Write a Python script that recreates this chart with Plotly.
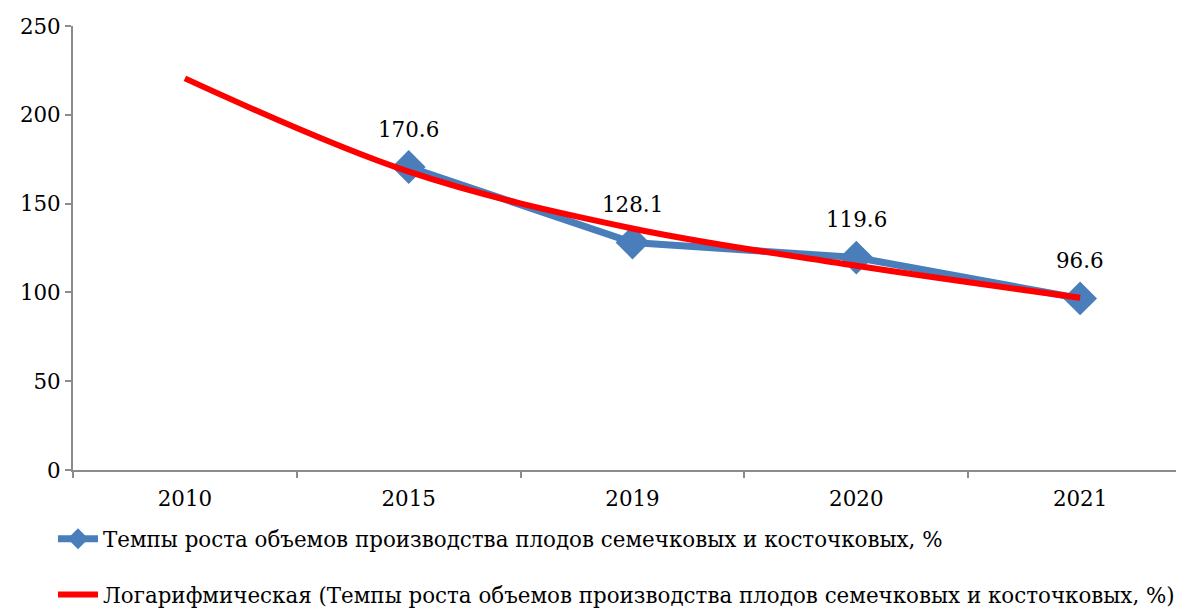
import plotly.graph_objects as go

categories = ["2010", "2015", "2019", "2020", "2021"]
growth_values = [None, 170.6, 128.1, 119.6, 96.6]
growth_labels = ["", "170.6", "128.1", "119.6", "96.6"]
trend_values = [220.5, 168.0, 136.0, 115.0, 97.0]

series_name = "Темпы роста объемов производства плодов семечковых и косточковых, %"
trend_name = "Логарифмическая (Темпы роста объемов производства плодов семечковых и косточковых, %)"

FONT = "DejaVu Serif"
FS = 21.4

fig = go.Figure()
fig.add_trace(go.Scatter(
    x=categories, y=growth_values, name=series_name,
    mode="lines+markers",
    line=dict(color="#4a7ebb", width=7),
    marker=dict(symbol="diamond", size=26, color="#4a7ebb"),
    legendgroup="a", cliponaxis=False,
))
fig.add_trace(go.Scatter(
    x=categories, y=trend_values, name=trend_name,
    mode="lines", line=dict(color="#ff0000", width=6, shape="spline"),
    legendgroup="b", cliponaxis=False,
))

for idx, (val, lab) in enumerate(zip(growth_values, growth_labels)):
    if val is None:
        continue
    fig.add_annotation(
        x=idx, y=val, xref="x", yref="y", text=lab, showarrow=False, yshift=38,
        xanchor="center", yanchor="middle",
        font=dict(family=FONT, size=FS, color="black"),
    )

fig.update_layout(
    width=1184, height=609,
    margin=dict(l=65, r=0, t=18, b=147, autoexpand=False),
    paper_bgcolor="white", plot_bgcolor="white",
    font=dict(family=FONT, size=FS, color="black"),
    showlegend=True,
    legend=dict(
        orientation="v", xref="container", yref="container",
        x=0.038, y=0.162, xanchor="left", yanchor="top",
        font=dict(family=FONT, size=FS, color="black"),
        tracegroupgap=25, itemwidth=40, bgcolor="rgba(0,0,0,0)",
    ),
    xaxis=dict(
        type="category", range=[-0.5, 4.5],
        showline=True, linecolor="#8c8c8c", linewidth=2,
        ticks="outside", tickson="boundaries", ticklen=6, tickcolor="#8c8c8c", tickwidth=2,
        showgrid=False, zeroline=False, tickangle=0, ticklabelstandoff=8,
        tickfont=dict(family=FONT, size=FS, color="black"),
    ),
    yaxis=dict(
        range=[0, 250], tickvals=[0, 50, 100, 150, 200, 250],
        showline=True, linecolor="#8c8c8c", linewidth=2,
        ticks="outside", ticklen=6, tickcolor="#8c8c8c", tickwidth=2,
        showgrid=False, zeroline=False,
        tickfont=dict(family=FONT, size=FS, color="black"),
    ),
)

fig.write_html("out.html")
